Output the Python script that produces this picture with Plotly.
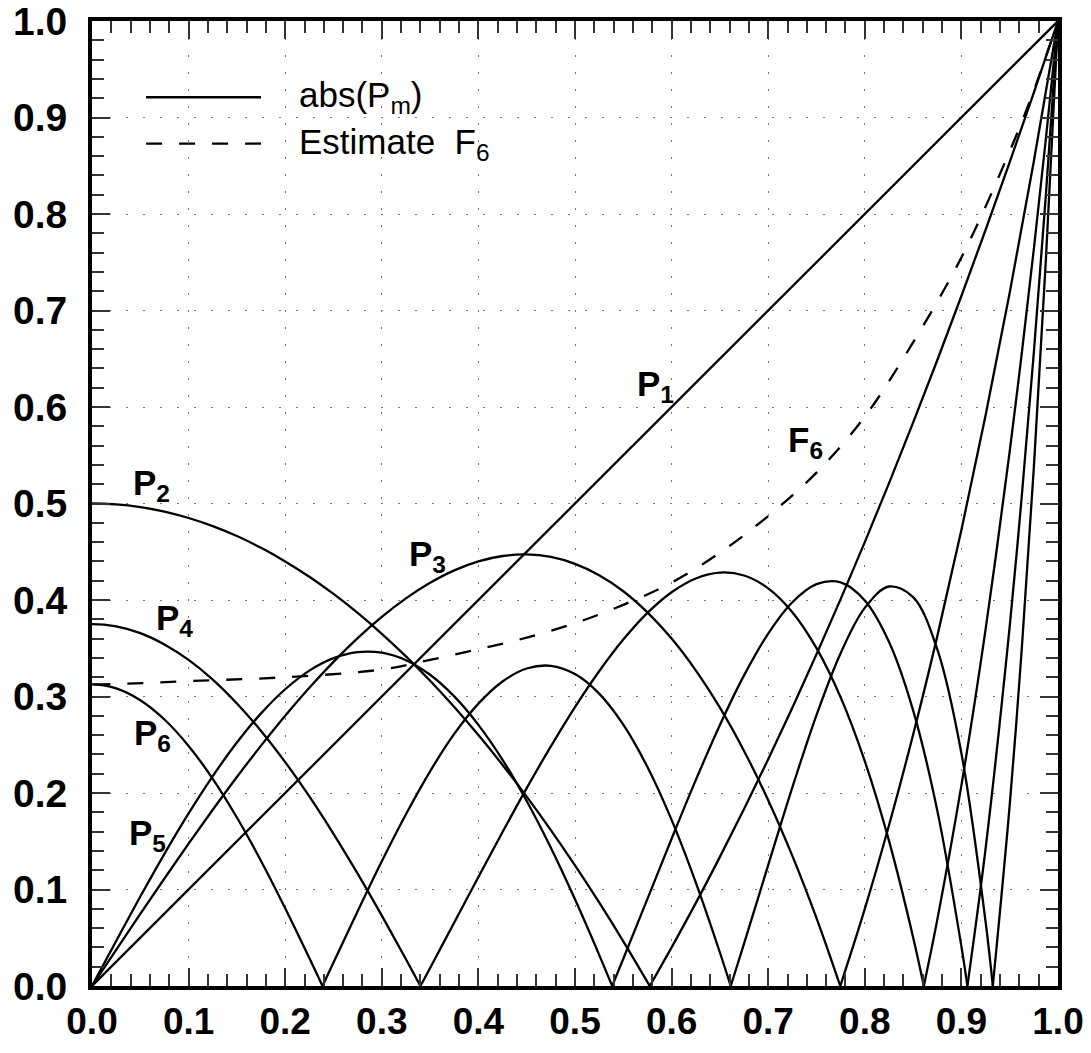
import plotly.graph_objects as go

# ---- data; None separates the arcs between zeros ----
p1_x = [0.0, 1.0]
p1_y = [0.0, 1.0]

p2_x = [-0.025, 0, 0.025, 0.05, 0.075, 0.1, 0.125, 0.15, 0.175, 0.2, 0.225, 0.25, 0.275, 0.3, 0.325, 0.35,
        0.375, 0.4, 0.425, 0.45, 0.475, 0.5, 0.525, 0.55, 0.5774, None,
        0.5774, 0.6, 0.625, 0.65, 0.675, 0.7, 0.725, 0.75, 0.775, 0.8, 0.825, 0.85, 0.875, 0.9, 0.925, 0.95,
        0.975, 1.0]
p2_y = [0.4991, 0.5, 0.4991, 0.4963, 0.4916, 0.485, 0.4766, 0.4663, 0.4541, 0.44, 0.4241, 0.4063, 0.3866,
        0.365, 0.3416, 0.3163, 0.2891, 0.26, 0.2291, 0.1963, 0.1616, 0.125, 0.0866, 0.0463, 0, None,
        0, 0.04, 0.0859, 0.1338, 0.1834, 0.235, 0.2884, 0.3438, 0.4009, 0.46, 0.5209, 0.5838, 0.6484, 0.715,
        0.7834, 0.8538, 0.9259, 1.0]

p3_x = [0, 0.025, 0.05, 0.075, 0.1, 0.125, 0.15, 0.175, 0.2, 0.225, 0.25, 0.275, 0.3, 0.325, 0.35, 0.375,
        0.4, 0.425, 0.45, 0.475, 0.5, 0.525, 0.55, 0.575, 0.6, 0.625, 0.65, 0.675, 0.7, 0.725, 0.75, 0.7746, None,
        0.7746, 0.8, 0.825, 0.85, 0.875, 0.9, 0.925, 0.95, 0.975, 1.0]
p3_y = [0, 0.0375, 0.0747, 0.1114, 0.1475, 0.1826, 0.2166, 0.2491, 0.28, 0.309, 0.3359, 0.3605, 0.3825,
        0.4017, 0.4178, 0.4307, 0.44, 0.4456, 0.4472, 0.4446, 0.4375, 0.4257, 0.4091, 0.3872, 0.36, 0.3271,
        0.2884, 0.2436, 0.1925, 0.1348, 0.0703, 0, None,
        0, 0.08, 0.1663, 0.2603, 0.3623, 0.4725, 0.5911, 0.7184, 0.8546, 1.0]

p4_x = [-0.025, 0, 0.025, 0.05, 0.075, 0.1, 0.125, 0.15, 0.175, 0.2, 0.225, 0.25, 0.275, 0.3, 0.325, 0.34, None,
        0.34, 0.35, 0.375, 0.4, 0.425, 0.45, 0.475, 0.5, 0.525, 0.55, 0.575, 0.6, 0.625, 0.65, 0.675, 0.7,
        0.725, 0.75, 0.775, 0.8, 0.825, 0.85, 0.8611, None,
        0.8611, 0.875, 0.9, 0.925, 0.95, 0.9625, 0.975, 0.9875, 1.0]
p4_y = [0.3727, 0.375, 0.3727, 0.3657, 0.354, 0.3379, 0.3175, 0.2928, 0.2643, 0.232, 0.1964, 0.1577, 0.1164,
        0.0729, 0.0277, 0, None,
        0, 0.0187, 0.0658, 0.113, 0.1596, 0.205, 0.2484, 0.2891, 0.3262, 0.359, 0.3866, 0.408, 0.4223, 0.4284,
        0.4254, 0.4121, 0.3874, 0.3501, 0.2991, 0.233, 0.1506, 0.0506, 0, None,
        0, 0.0685, 0.2079, 0.3693, 0.5541, 0.6557, 0.7638, 0.8785, 1.0]

p5_x = [0, 0.025, 0.05, 0.075, 0.1, 0.125, 0.15, 0.175, 0.2, 0.225, 0.25, 0.275, 0.3, 0.325, 0.35, 0.375,
        0.4, 0.425, 0.45, 0.475, 0.5, 0.525, 0.5385, None,
        0.5385, 0.55, 0.575, 0.6, 0.625, 0.65, 0.675, 0.7, 0.725, 0.75, 0.775, 0.8, 0.825, 0.85, 0.875, 0.9,
        0.9062, None,
        0.9062, 0.925, 0.95, 0.9625, 0.975, 0.9875, 1.0]
p5_y = [0, 0.0467, 0.0927, 0.137, 0.1788, 0.2175, 0.2523, 0.2825, 0.3075, 0.3268, 0.3397, 0.346, 0.3454,
        0.3376, 0.3225, 0.3001, 0.2706, 0.2344, 0.1917, 0.1433, 0.0898, 0.0323, 0, None,
        0, 0.0282, 0.0903, 0.1526, 0.2133, 0.2705, 0.3219, 0.3652, 0.3977, 0.4164, 0.4182, 0.3995, 0.3567,
        0.2857, 0.182, 0.0411, 0, None,
        0, 0.142, 0.3727, 0.5077, 0.6567, 0.8206, 1.0]

p6_x = [-0.025, 0, 0.025, 0.05, 0.075, 0.1, 0.125, 0.15, 0.175, 0.2, 0.225, 0.2386, None,
        0.2386, 0.25, 0.275, 0.3, 0.325, 0.35, 0.375, 0.4, 0.425, 0.45, 0.475, 0.5, 0.525, 0.55, 0.575, 0.6,
        0.625, 0.65, 0.6612, None,
        0.6612, 0.675, 0.7, 0.725, 0.75, 0.775, 0.8, 0.825, 0.85, 0.875, 0.9, 0.925, 0.9325, None,
        0.9325, 0.95, 0.9625, 0.975, 0.9875, 1.0]
p6_y = [0.3084, 0.3125, 0.3084, 0.2962, 0.2762, 0.2488, 0.2147, 0.1746, 0.1296, 0.0806, 0.0289, 0, None,
        0, 0.0243, 0.0774, 0.1292, 0.178, 0.2225, 0.2612, 0.2926, 0.3156, 0.329, 0.3318, 0.3232, 0.303,
        0.2708, 0.2269, 0.1721, 0.1074, 0.0347, 0, None,
        0, 0.0439, 0.1253, 0.2058, 0.2808, 0.3449, 0.3918, 0.414, 0.403, 0.3491, 0.2412, 0.0669, 0, None,
        0, 0.1875, 0.3495, 0.5374, 0.7535, 1.0]

f6_x = [-0.1, 0, 0.1, 0.2, 0.3, 0.35, 0.4, 0.45, 0.5, 0.55, 0.6, 0.65, 0.7, 0.75, 0.8, 0.85, 0.9, 0.95,
        0.975, 1.0]
f6_y = [0.316, 0.3125, 0.316, 0.320, 0.328, 0.338, 0.349, 0.361, 0.376, 0.395, 0.418, 0.449, 0.487, 0.532,
        0.590, 0.667, 0.755, 0.865, 0.928, 1.0]

tick_vals = [0.0, 0.1, 0.2, 0.3, 0.4, 0.5, 0.6, 0.7, 0.8, 0.9, 1.0]
tick_text = ["0.0", "0.1", "0.2", "0.3", "0.4", "0.5", "0.6", "0.7", "0.8", "0.9", "1.0"]

curve_labels = [
    ("P<sub>1</sub>", 0.583, 0.622),
    ("P<sub>2</sub>", 0.062, 0.519),
    ("P<sub>3</sub>", 0.347, 0.446),
    ("P<sub>4</sub>", 0.085, 0.379),
    ("P<sub>5</sub>", 0.057, 0.156),
    ("P<sub>6</sub>", 0.063, 0.260),
    ("F<sub>6</sub>", 0.739, 0.564),
]

legend_entries = [("abs(P<sub>m</sub>)", "solid", 0.921), ("Estimate  F<sub>6</sub>", "16px,17px", 0.873)]

# ---- figure ----
fig = go.Figure()
for xs, ys in [(p1_x, p1_y), (p2_x, p2_y), (p3_x, p3_y), (p4_x, p4_y), (p5_x, p5_y), (p6_x, p6_y)]:
    fig.add_trace(go.Scatter(x=xs, y=ys, mode="lines",
                             line=dict(shape="spline", smoothing=1, color="black", width=2.3),
                             connectgaps=False, showlegend=False, hoverinfo="skip"))
fig.add_trace(go.Scatter(x=f6_x, y=f6_y, mode="lines",
                         line=dict(color="black", width=2.3, dash="16px,17px", shape="spline", smoothing=1),
                         showlegend=False, hoverinfo="skip"))

for txt, lx, ly in curve_labels:
    fig.add_annotation(x=lx, y=ly, xref="x", yref="y", text=txt, showarrow=False,
                       font=dict(family="Liberation Sans", size=35, color="black", weight="bold"))

# legend (drawn manually, as in the reference)
for txt, dash, ly in legend_entries:
    fig.add_shape(type="line", xref="paper", yref="paper", x0=0.056, x1=0.175, y0=ly, y1=ly,
                  line=dict(color="black", width=2.3, dash=dash))
    fig.add_annotation(xref="paper", yref="paper", x=0.213, y=ly, xanchor="left", yanchor="middle",
                       text=txt, showarrow=False, borderpad=0,
                       font=dict(family="Liberation Sans", size=35, color="black"))

axis_common = dict(
    range=[0, 1], tickvals=tick_vals, ticktext=tick_text,
    ticks="inside", ticklen=18, tickwidth=2, tickcolor="#333",
    minor=dict(dtick=0.02, ticks="inside", ticklen=12, tickwidth=2, tickcolor="#333", showgrid=False),
    showline=True, linecolor="black", linewidth=4, mirror="allticks",
    showgrid=True, gridcolor="#777", gridwidth=1, griddash="2px,15px",
    zeroline=False, fixedrange=True, automargin=False, ticklabeloverflow="allow",
)
fig.update_xaxes(**axis_common, tickfont=dict(family="Liberation Sans", size=37, color="black", weight="bold"),
                 ticklabelstandoff=0)
fig.update_yaxes(**axis_common, tickfont=dict(family="Liberation Sans", size=39, color="black", weight="bold"),
                 ticklabelstandoff=13)

fig.update_layout(
    width=1091, height=1053,
    margin=dict(l=92, r=33, t=21, b=67, pad=0),
    plot_bgcolor="white", paper_bgcolor="white",
    showlegend=False,
)

fig.write_html("out.html", config={"displayModeBar": False},
               post_script="document.body.style.margin='0px';")
